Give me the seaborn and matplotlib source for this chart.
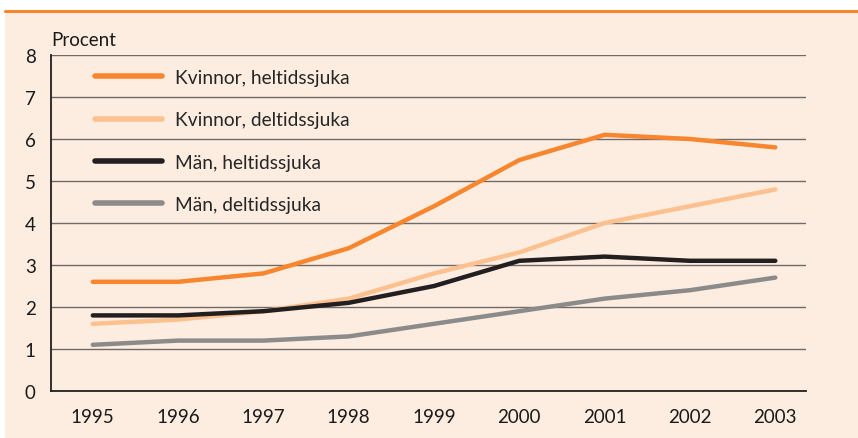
import matplotlib
matplotlib.use("Agg")
import matplotlib.pyplot as plt
import seaborn as sns
import pandas as pd
from matplotlib.patches import Rectangle
from matplotlib.lines import Line2D

years = ["1995", "1996", "1997", "1998", "1999", "2000", "2001", "2002", "2003"]
kvinnor_heltid = [2.6, 2.6, 2.8, 3.4, 4.4, 5.5, 6.1, 6.0, 5.8]
kvinnor_deltid = [1.6, 1.7, 1.9, 2.2, 2.8, 3.3, 4.0, 4.4, 4.8]
man_heltid = [1.8, 1.8, 1.9, 2.1, 2.5, 3.1, 3.2, 3.1, 3.1]
man_deltid = [1.1, 1.2, 1.2, 1.3, 1.6, 1.9, 2.2, 2.4, 2.7]
series_names = ["Kvinnor, heltidssjuka", "Kvinnor, deltidssjuka",
                "Män, heltidssjuka", "Män, deltidssjuka"]
colors = ["#F7862E", "#FCC18F", "#231F20", "#8C8B8B"]
yticks = [0, 1, 2, 3, 4, 5, 6, 7, 8]

rows = []
for name, vals in zip(series_names, [kvinnor_heltid, kvinnor_deltid, man_heltid, man_deltid]):
    for i, (y, v) in enumerate(zip(years, vals)):
        rows.append({"idx": i, "year": y, "value": v, "series": name})
df = pd.DataFrame(rows)

sns.set_theme(style="white")
plt.rcParams["font.family"] = ["Lato", "DejaVu Sans"]

bg = "#FDEDE0"
fig = plt.figure(figsize=(8.58, 4.39), dpi=100)
fig.patch.set_facecolor("white")
W, H = 858, 439
fig.patches.append(Rectangle((5 / W, 0), 1 - 5 / W, 1 - 12 / H, transform=fig.transFigure,
                             facecolor=bg, edgecolor="none", zorder=-10))
fig.lines.append(Line2D([5 / W, 1], [1 - 11.5 / H, 1 - 11.5 / H], transform=fig.transFigure,
                        color="#F7862E", lw=2.2, zorder=-9))

ax = fig.add_axes([51 / W, 1 - 392 / H, (806 - 51) / W, (392 - 56) / H])
ax.set_zorder(5)
ax.set_facecolor("none")
ax.patch.set_alpha(0)

sns.lineplot(data=df, x="idx", y="value", hue="series", palette=colors,
             hue_order=series_names, linewidth=3.2, ax=ax, legend=True,
             solid_capstyle="round")

ax.set_xlim(-0.49, 8.36)
ax.set_ylim(0, 8)
ax.set_xticks(range(len(years)))
ax.set_xticklabels(years)
ax.set_yticks(yticks)
ax.set_yticklabels([str(t) for t in yticks])
ax.tick_params(axis="both", length=0, labelsize=13.5, colors="#1a1a1a")
ax.tick_params(axis="x", pad=12)
ax.tick_params(axis="y", pad=11)
ax.set_xlabel("")
ax.set_ylabel("")
ax.grid(axis="y", color="#6f6a68", linewidth=1.0)
ax.set_axisbelow(True)
for s in ["top", "right"]:
    ax.spines[s].set_visible(False)
for s in ["left", "bottom"]:
    ax.spines[s].set_color("#231F20")
    ax.spines[s].set_linewidth(1.3)

ax.text(0, 1.022, "Procent", transform=ax.transAxes, fontsize=13.5, color="#1a1a1a",
        ha="left", va="bottom")

handles, labels = ax.get_legend_handles_labels()
leg = ax.legend(handles, labels, loc="upper left", bbox_to_anchor=(0.045, 0.987),
                frameon=False, fontsize=13.8, handlelength=3.5, handletextpad=0.7,
                labelspacing=1.32, borderpad=0)
for h in leg.get_lines():
    h.set_linewidth(4)
    h.set_solid_capstyle("round")

fig.savefig("out.png", dpi=100, facecolor=fig.get_facecolor())
